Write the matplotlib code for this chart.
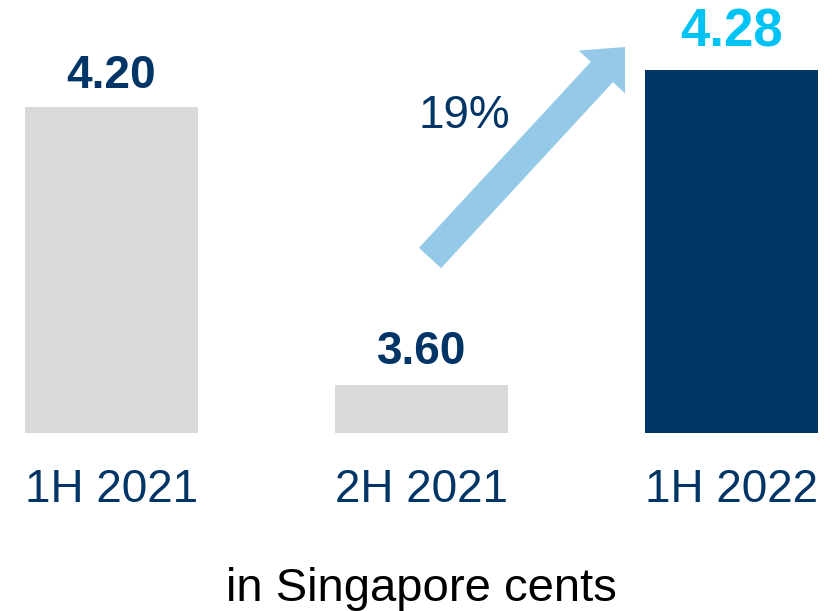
import matplotlib.pyplot as plt
from matplotlib.patches import FancyArrow

categories = ['1H 2021', '2H 2021', '1H 2022']
values = [4.20, 3.60, 4.28]
value_labels = ['4.20', '3.60', '4.28']
growth_label = '19%'
unit_label = 'in Singapore cents'

navy = '#003566'
grey = '#d9d9d9'
cyan = '#00c3f5'
arrow_blue = '#95c9e8'

plt.rcParams['font.family'] = ['Liberation Sans', 'DejaVu Sans']

fig = plt.figure(figsize=(8.39, 6.11), dpi=100)
ax = fig.add_axes([0, 0.2913, 1, 0.7087])

bar_colors = [grey, grey, navy]
x = list(range(len(categories)))
bars = ax.bar(x, values, width=0.558, color=bar_colors, bottom=0)
ax.set_xlim(-0.3597, 2.347)
ax.set_ylim(3.496, 4.431)

# value labels above bars
label_colors = [navy, navy, cyan]
label_sizes = [33, 33, 38]
offsets = [14, 15, 17]
for i, v in enumerate(values):
    ax.annotate(value_labels[i], (x[i], v), xytext=(0, offsets[i]),
                textcoords='offset points', ha='center', va='baseline',
                fontsize=label_sizes[i], fontweight='bold', color=label_colors[i])

ax.set_xticks(x)
ax.set_xticklabels(categories, fontsize=33, color=navy)
ax.tick_params(axis='x', length=0, pad=25.5)
ax.set_yticks([])
for s in ax.spines.values():
    s.set_visible(False)

# growth arrow, drawn in inch coordinates (dpi 100 -> 1 inch = 100 px)
arr = FancyArrow(4.30, 3.53, 1.95, 2.11, width=0.30, head_width=0.63,
                 head_length=0.34, length_includes_head=True,
                 color=arrow_blue, linewidth=0, transform=fig.dpi_scale_trans)
fig.add_artist(arr)
fig.text(4.64 / 8.39, (611 - 128) / 611, growth_label, ha='center', va='baseline',
         fontsize=33, color=navy)

fig.text(0.502, 0.017, unit_label, ha='center', va='baseline', fontsize=34, color='black')

fig.savefig('out.png', dpi=100)
